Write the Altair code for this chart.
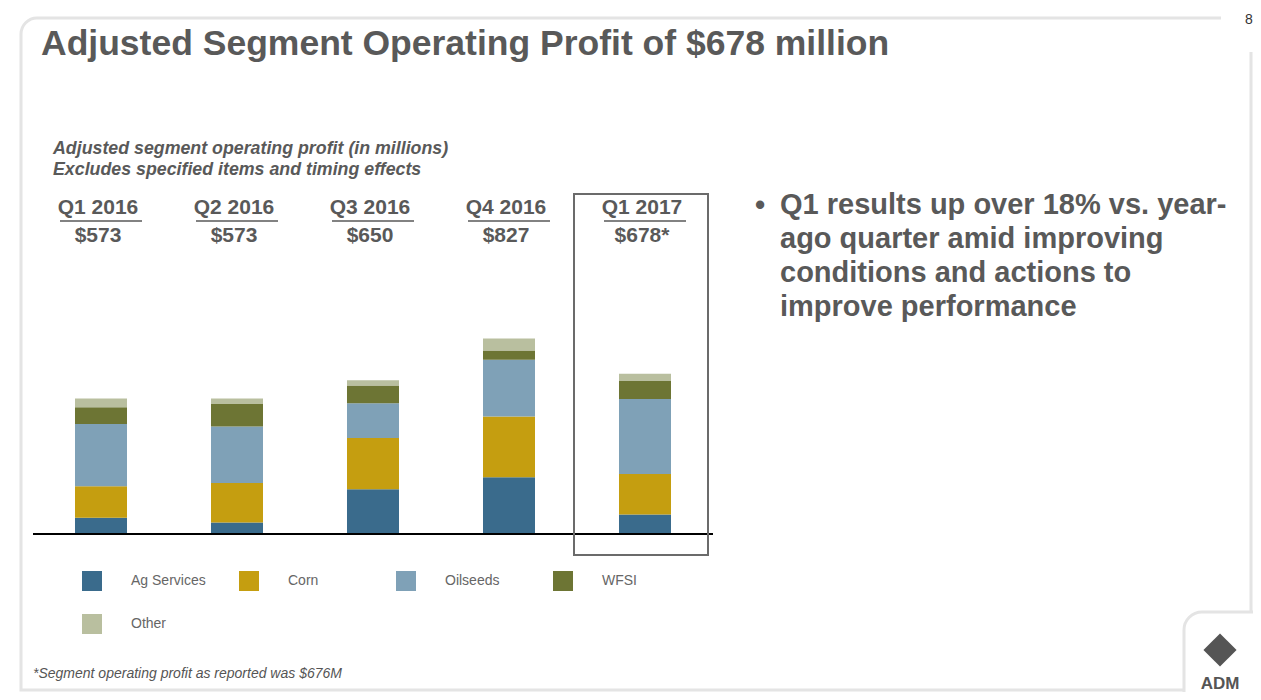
import altair as alt
import pandas as pd

# ---- data ----
quarters = ["Q1 2016", "Q2 2016", "Q3 2016", "Q4 2016", "Q1 2017"]
total_labels = ["$573", "$573", "$650", "$827", "$678*"]
segments = ["Ag Services", "Corn", "Oilseeds", "WFSI", "Other"]
ag_services = [69, 49, 189, 240, 82]
corn = [133, 167, 217, 257, 172]
oilseeds = [263, 239, 147, 240, 317]
wfsi = [71, 95, 75, 39, 76]
other = [37, 23, 22, 51, 31]
colors = ["#3A6B8C", "#C59E10", "#7FA1B7", "#6D7534", "#B9BF9F"]

title_text = "Adjusted Segment Operating Profit of $678 million"
subtitle_text = "Adjusted segment operating profit (in millions)\nExcludes specified items and timing effects"
bullet_text = ("Q1 results up over 18% vs. year-\nago quarter amid improving\n"
               "conditions and actions to\nimprove performance")
footnote_text = "*Segment operating profit as reported was $676M"

series = [ag_services, corn, oilseeds, wfsi, other]
rows = []
for si, (seg, vals) in enumerate(zip(segments, series)):
    for q, v in zip(quarters, vals):
        rows.append({"quarter": q, "segment": seg, "value": v, "order": si})
df = pd.DataFrame(rows)
hdr = pd.DataFrame({"quarter": quarters, "total": total_labels})

FONT = "Liberation Sans, Arial, sans-serif"
GRAY = "#595959"
W, H = 1245, 684

xscale = alt.Scale(domain=quarters, range=[25, 705], paddingInner=0.6176, paddingOuter=0.3088)
yscale = alt.Scale(domain=[0, 1000], range=[526, 289.5])

one = pd.DataFrame({"a": [0]})

# ---- frame ----
frame = alt.Chart(one).mark_rect(fill="white", fillOpacity=0, stroke="#E4E4E4", strokeWidth=3,
                                 cornerRadiusTopLeft=16).encode(
    x=alt.value(13), x2=alt.value(1243), y=alt.value(10), y2=alt.value(682))
mask_tr = alt.Chart(one).mark_rect(fill="white").encode(
    x=alt.value(1213), x2=alt.value(1250), y=alt.value(0), y2=alt.value(44))
mask_br = alt.Chart(one).mark_rect(fill="white").encode(
    x=alt.value(1177), x2=alt.value(1250), y=alt.value(605), y2=alt.value(690))
cutout = alt.Chart(one).mark_rect(fill="white", fillOpacity=0, stroke="#E4E4E4", strokeWidth=3,
                                  cornerRadiusTopLeft=18).encode(
    x=alt.value(1176), x2=alt.value(1300), y=alt.value(604), y2=alt.value(760))

# ---- texts ----
title = alt.Chart(one).mark_text(text=title_text, font=FONT, fontSize=35.5, fontWeight="bold",
                                 color=GRAY, align="left", baseline="alphabetic").encode(
    x=alt.value(33), y=alt.value(47))
pagenum = alt.Chart(one).mark_text(text="8", font=FONT, fontSize=14, color="#333333",
                                   align="center", baseline="middle").encode(
    x=alt.value(1241), y=alt.value(12))
subtitle = alt.Chart(one).mark_text(text=subtitle_text, lineBreak="\n", lineHeight=21, font=FONT,
                                    fontSize=17.8, fontWeight="bold", fontStyle="italic",
                                    color=GRAY, align="left", baseline="middle").encode(
    x=alt.value(45), y=alt.value(141))
bullet_dot = alt.Chart(one).mark_text(text="•", font=FONT, fontSize=29, fontWeight="bold",
                                      color=GRAY, align="left", baseline="middle").encode(
    x=alt.value(747), y=alt.value(198))
bullet = alt.Chart(one).mark_text(text=bullet_text, lineBreak="\n", lineHeight=34, font=FONT,
                                  fontSize=29, fontWeight="bold", color=GRAY,
                                  align="left", baseline="middle").encode(
    x=alt.value(772), y=alt.value(197))
footnote = alt.Chart(one).mark_text(text=footnote_text, font=FONT, fontSize=14, fontStyle="italic",
                                    color="#555555", align="left", baseline="middle").encode(
    x=alt.value(25), y=alt.value(666))

# ---- logo ----
logo_mark = alt.Chart(one).mark_point(shape="diamond", filled=True, color="#555555", size=1100,
                                      opacity=1).encode(x=alt.value(1212), y=alt.value(642))
logo_text = alt.Chart(one).mark_text(text="ADM", font=FONT, fontSize=17, fontWeight="bold",
                                     color="#555555", align="center", baseline="middle").encode(
    x=alt.value(1212), y=alt.value(676))

# ---- bars ----
bars = alt.Chart(df).mark_bar().encode(
    x=alt.X("quarter:N", scale=xscale, axis=None, sort=quarters),
    y=alt.Y("sum(value):Q", scale=yscale, axis=None, stack="zero"),
    color=alt.Color("segment:N", scale=alt.Scale(domain=segments, range=colors), title=None,
                    sort=segments,
                    legend=alt.Legend(orient="none", legendX=74, legendY=563, columns=4,
                                      direction="horizontal",
                                      symbolType="square", symbolSize=400, symbolStrokeWidth=0,
                                      symbolOpacity=1,
                                      labelFont=FONT, labelFontSize=14, labelColor="#666666",
                                      labelOffset=29, columnPadding=33, rowPadding=23,
                                      gridAlign="all", padding=0, labelLimit=200)),
    order=alt.Order("order:Q", sort="ascending"),
)

headers = alt.Chart(hdr).mark_text(font=FONT, fontSize=21, fontWeight="bold", color=GRAY,
                                   baseline="middle", dx=-3).encode(
    x=alt.X("quarter:N", scale=xscale, axis=None, sort=quarters),
    y=alt.value(200), text="quarter:N")
underline = alt.Chart(hdr).mark_tick(orient="horizontal", size=82, thickness=1.5,
                                     color=GRAY, opacity=1).encode(
    x=alt.X("quarter:N", scale=xscale, axis=None, sort=quarters),
    y=alt.value(213))
totals = alt.Chart(hdr).mark_text(font=FONT, fontSize=21, fontWeight="bold", color=GRAY,
                                  baseline="middle", dx=-3).encode(
    x=alt.X("quarter:N", scale=xscale, axis=None, sort=quarters),
    y=alt.value(228), text="total:N")

baseline_rule = alt.Chart(one).mark_rule(color="black", strokeWidth=2).encode(
    x=alt.value(25), x2=alt.value(705), y=alt.value(526))
box = alt.Chart(one).mark_rect(fill="white", fillOpacity=0, stroke="#6B6B6B", strokeWidth=2).encode(
    x=alt.value(566), x2=alt.value(700), y=alt.value(186), y2=alt.value(547))

chart = alt.layer(
    frame, mask_tr, mask_br, cutout, title, pagenum, subtitle, bullet_dot, bullet, footnote,
    logo_mark, logo_text, bars, headers, underline, totals, baseline_rule, box
).properties(
    width=W, height=H, autosize=alt.AutoSizeParams(type="none"), padding=0, background="white"
).configure_view(stroke=None)

chart.save("out.html", embed_options={"renderer": "svg", "actions": False})
